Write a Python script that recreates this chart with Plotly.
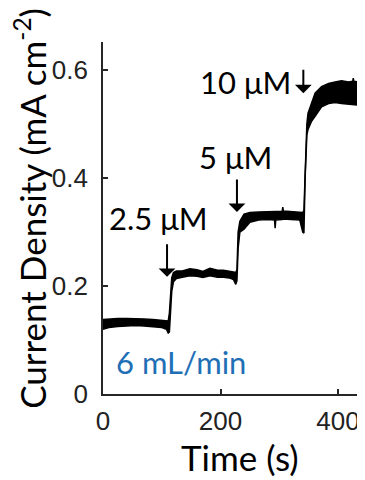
import plotly.graph_objects as go

# ---- data (current density envelope of the noisy trace) ----
time_s = [0, 10, 25, 40, 55, 70, 85, 100, 108, 111, 113, 115, 117, 120, 125, 135, 148, 160,
          170, 182, 195, 205, 215, 222, 226, 228, 230, 233, 240, 250, 265, 280, 292, 293, 294,
          305, 306, 307, 320, 335, 340, 342, 344, 347, 349, 355, 361, 372, 384, 395, 406, 418,
          425, 426, 427, 435, 446, 450]
j_upper = [0.138, 0.139, 0.140, 0.140, 0.140, 0.139, 0.138, 0.137, 0.136, 0.135, 0.150, 0.190,
           0.215, 0.225, 0.228, 0.228, 0.232, 0.230, 0.227, 0.233, 0.229, 0.229, 0.228, 0.226,
           0.225, 0.230, 0.300, 0.320, 0.333, 0.336, 0.337, 0.338, 0.338, 0.338, 0.338, 0.338,
           0.346, 0.339, 0.338, 0.337, 0.336, 0.340, 0.420, 0.500, 0.520, 0.540, 0.557, 0.569,
           0.575, 0.578, 0.580, 0.578, 0.579, 0.585, 0.579, 0.578, 0.576, 0.576]
j_lower = [0.120, 0.123, 0.125, 0.126, 0.127, 0.126, 0.125, 0.123, 0.120, 0.113, 0.115, 0.160,
           0.190, 0.208, 0.214, 0.216, 0.219, 0.218, 0.216, 0.219, 0.216, 0.216, 0.215, 0.212,
           0.203, 0.210, 0.270, 0.300, 0.305, 0.318, 0.322, 0.323, 0.322, 0.307, 0.322, 0.323,
           0.324, 0.324, 0.323, 0.322, 0.300, 0.298, 0.400, 0.480, 0.490, 0.505, 0.514, 0.532,
           0.538, 0.540, 0.538, 0.537, 0.536, 0.536, 0.536, 0.535, 0.533, 0.533]

x_ticks = [0, 200, 400]
y_ticks = [0, 0.2, 0.4, 0.6]
y_tick_text = ["0", "0.2", "0.4", "0.6"]

# additions: label, arrow x [s], arrow head y, label x, label y, arrow length px
add_labels = ["2.5 μM", "5 μM", "10 μM"]
arrow_x = [109, 228, 341]
arrow_y = [0.217, 0.337, 0.557]
label_x = [95, 226, 242]
label_y = [0.326, 0.439, 0.578]
arrow_len = [34, 34, 25]

flow_label = "6 mL/min"

FONT = "Lato"
TICKFONT = "Liberation Sans"
AX = "#262626"

fig = go.Figure()
fig.add_trace(go.Scatter(x=time_s, y=j_upper, mode="lines",
                         line=dict(color="black", width=1.5), showlegend=False,
                         hoverinfo="skip"))
fig.add_trace(go.Scatter(x=time_s, y=j_lower, mode="lines", fill="tonexty",
                         fillcolor="black", line=dict(color="black", width=1.5),
                         showlegend=False, hoverinfo="skip"))

annotations = []
for lab, ax_, ay_, lx, ly, L in zip(add_labels, arrow_x, arrow_y, label_x, label_y, arrow_len):
    annotations.append(dict(x=lx, y=ly, xref="x", yref="y", text=lab, showarrow=False,
                            font=dict(family=FONT, size=31, color="black"),
                            xanchor="center", yanchor="middle"))
    annotations.append(dict(x=ax_, y=ay_, xref="x", yref="y", text="", showarrow=True,
                            ax=0, ay=-L, arrowhead=1, arrowsize=1.4, arrowwidth=2,
                            arrowcolor="black", standoff=0))
annotations.append(dict(x=132, y=0.059, xref="x", yref="y", text=flow_label, showarrow=False,
                        font=dict(family=FONT, size=31, color="#1f6fb6"),
                        xanchor="center", yanchor="middle"))
# axis titles
annotations.append(dict(x=-73 / 262, y=0.526, xref="paper", yref="paper",
                        text="Current Density (mA cm<sup>-2</sup>)", textangle=-90,
                        showarrow=False, font=dict(family=FONT, size=35, color="black"),
                        xanchor="center", yanchor="middle"))
annotations.append(dict(x=(240 - 103) / 262, y=-(457 - 394) / 352, xref="paper", yref="paper",
                        text="Time (s)", showarrow=False,
                        font=dict(family=FONT, size=35, color="black"),
                        xanchor="center", yanchor="middle"))

xr = [0, 262 / 0.5875]
yr = [0, 352 / 540]
fig.update_layout(
    width=357, height=472,
    margin=dict(l=95, r=0, t=34, b=86),
    paper_bgcolor="white", plot_bgcolor="white",
    font=dict(family=FONT, color="black"),
    annotations=annotations,
    xaxis=dict(range=xr, tickvals=x_ticks, ticks="inside", ticklen=5, tickwidth=1.5,
               tickcolor=AX, showline=True, linecolor=AX, linewidth=1.8, showgrid=False,
               zeroline=False, tickfont=dict(family=TICKFONT, size=26, color="#222"),
               ticklabelstandoff=3),
    yaxis=dict(range=yr, tickvals=y_ticks, ticktext=y_tick_text,
               ticks="inside", ticklen=5, tickwidth=1.5,
               tickcolor=AX, showline=True, linecolor=AX, linewidth=1.8, showgrid=False,
               zeroline=False, tickfont=dict(family=TICKFONT, size=26, color="#222"),
               ticklabelstandoff=8),
    xaxis2=dict(range=xr, overlaying="x", side="top", anchor="y", tickvals=x_ticks,
                ticks="inside", ticklen=5, tickwidth=1.5, tickcolor=AX, showline=True,
                linecolor=AX, linewidth=1.8, showgrid=False, zeroline=False,
                showticklabels=False),
    yaxis2=dict(range=yr, overlaying="y", side="right", anchor="x", tickvals=y_ticks,
                ticks="inside", ticklen=5, tickwidth=1.5, tickcolor=AX, showline=False,
                showgrid=False, zeroline=False, showticklabels=False),
)
fig.write_html("out.html")
